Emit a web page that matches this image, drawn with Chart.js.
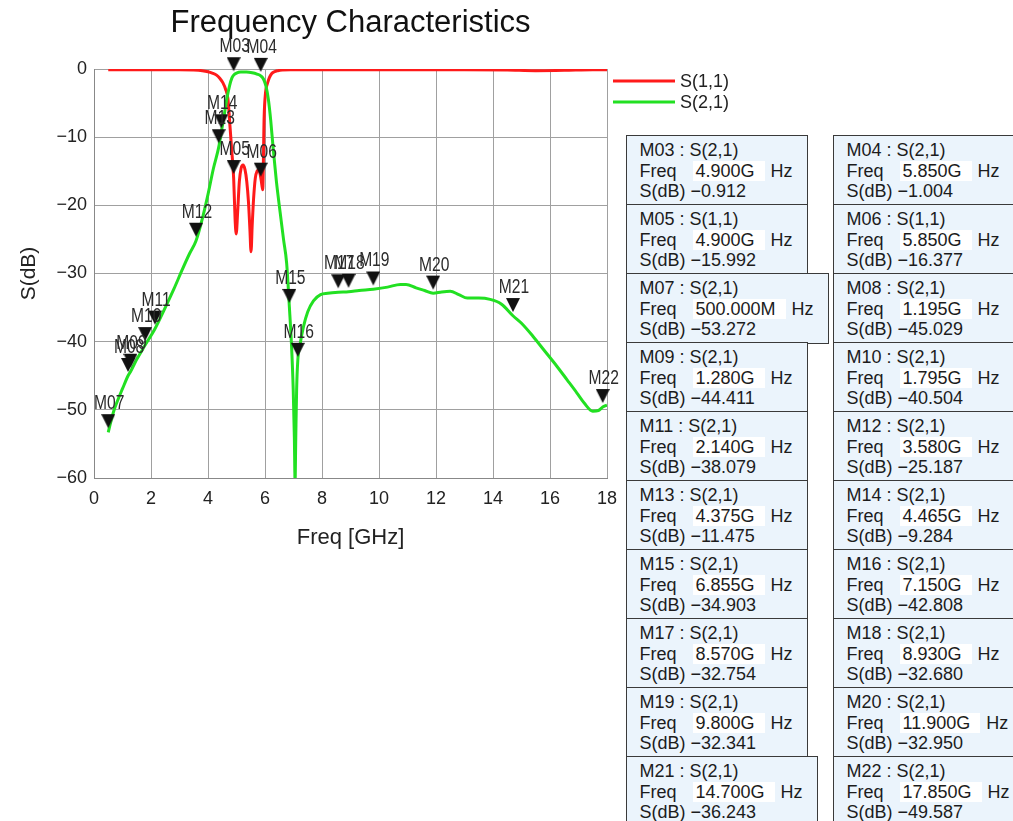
<!DOCTYPE html>
<html>
<head>
<meta charset="utf-8">
<script src="https://cdn.jsdelivr.net/npm/chart.js@4.4.1/dist/chart.umd.min.js"></script>
<style>
  body { margin: 0; background: #fff; }
  #wrap { position: relative; width: 1013px; height: 821px; overflow: hidden; }
  #freqChart { position: absolute; left: 0; top: 0; }
  .mk {
    position: absolute; box-sizing: border-box; height: 70.5px; min-width: 180px;
    padding: 4px 14px 0 12.5px; border: 1.5px solid #3a3a3a; background: #ebf4fc;
    font-family: "Liberation Sans", Arial, sans-serif; font-size: 18px; line-height: 20.5px;
    color: #1c1c1c; white-space: nowrap;
  }
  .mk .lbl { display: inline-block; width: 53px; }
  .mk .val { background: #fff; padding: 0 10px 0 3px; margin-right: 6px; }
</style>
</head>
<body>
<div id="wrap">
  <canvas id="freqChart" width="1013" height="821"></canvas>
</div>
<script>
// S(1,1) trace
const s11Freq = [0.5, 1, 2, 3, 3.5, 3.8, 4.0, 4.15, 4.3, 4.42, 4.52, 4.62, 4.7, 4.77, 4.83, 4.9, 4.95, 4.99, 5.04, 5.1, 5.16, 5.23, 5.3, 5.36, 5.42, 5.47, 5.51, 5.55, 5.6, 5.66, 5.72, 5.79, 5.85, 5.89, 5.92, 5.97, 6.02, 6.08, 6.15, 6.23, 6.33, 6.45, 6.6, 6.9, 7.5, 9, 11, 13, 14.5, 15.5, 16.5, 17.5, 18];
const s11Db = [-0.1, -0.1, -0.1, -0.1, -0.15, -0.25, -0.4, -0.6, -0.9, -1.4, -2.0, -3.0, -4.4, -8.3, -11.8, -16, -22, -24.2, -21, -16.5, -14.6, -14.1, -14.8, -16.5, -19.5, -23.5, -26.8, -23, -19, -16, -15, -14.8, -15.9, -17, -17.7, -7, -3.4, -2.2, -1.3, -0.7, -0.4, -0.25, -0.15, -0.1, -0.1, -0.1, -0.1, -0.1, -0.15, -0.25, -0.2, -0.1, -0.1];

// S(2,1) trace
const s21Freq = [0.5, 0.6, 0.7, 0.85, 1.0, 1.195, 1.28, 1.5, 1.795, 2.14, 2.5, 2.8, 3.1, 3.35, 3.58, 3.84, 4.0, 4.19, 4.375, 4.465, 4.56, 4.66, 4.76, 4.84, 4.9, 5.0, 5.15, 5.35, 5.55, 5.72, 5.85, 5.95, 6.04, 6.12, 6.2, 6.29, 6.4, 6.53, 6.65, 6.76, 6.855, 6.93, 6.99, 7.03, 7.055, 7.08, 7.11, 7.15, 7.23, 7.35, 7.5, 7.7, 7.95, 8.2, 8.57, 8.93, 9.3, 9.8, 10.3, 10.75, 10.95, 11.3, 11.6, 11.9, 12.2, 12.5, 12.8, 13.1, 13.5, 13.9, 14.3, 14.7, 15.0, 15.4, 15.8, 16.24, 16.6, 16.94, 17.2, 17.5, 17.7, 17.85, 18.0];
const s21Db = [-53.3, -51.6, -50.1, -48.4, -46.9, -45.0, -44.4, -42.6, -40.5, -38.1, -35.0, -32.3, -29.4, -27.1, -25.2, -21.3, -18.4, -14.6, -11.5, -9.3, -7.0, -4.4, -2.4, -1.3, -0.9, -0.6, -0.45, -0.45, -0.55, -0.75, -1.0, -1.5, -2.6, -4.5, -7.5, -11.8, -16.5, -21.0, -25.0, -28.5, -34.9, -40.5, -47, -54, -60.5, -54, -47, -42.8, -40.4, -37.8, -35.6, -34.0, -33.1, -32.9, -32.75, -32.68, -32.5, -32.3, -32.0, -31.6, -31.6, -32.1, -32.5, -32.9, -32.7, -32.6, -33.1, -33.6, -33.6, -33.8, -34.5, -36.2, -37.3, -39.2, -41.3, -43.6, -45.6, -47.5, -49.0, -50.2, -50.1, -49.6, -49.3];

// markers
const markerNames = ['M03', 'M04', 'M05', 'M06', 'M07', 'M08', 'M09', 'M10', 'M11', 'M12', 'M13', 'M14', 'M15', 'M16', 'M17', 'M18', 'M19', 'M20', 'M21', 'M22'];
const markerTrace = ['S(2,1)', 'S(2,1)', 'S(1,1)', 'S(1,1)', 'S(2,1)', 'S(2,1)', 'S(2,1)', 'S(2,1)', 'S(2,1)', 'S(2,1)', 'S(2,1)', 'S(2,1)', 'S(2,1)', 'S(2,1)', 'S(2,1)', 'S(2,1)', 'S(2,1)', 'S(2,1)', 'S(2,1)', 'S(2,1)'];
const markerFreq = [4.9, 5.85, 4.9, 5.85, 0.5, 1.195, 1.28, 1.795, 2.14, 3.58, 4.375, 4.465, 6.855, 7.15, 8.57, 8.93, 9.8, 11.9, 14.7, 17.85];
const markerDb = [-0.912, -1.004, -15.992, -16.377, -53.272, -45.029, -44.411, -40.504, -38.079, -25.187, -11.475, -9.284, -34.903, -42.808, -32.754, -32.68, -32.341, -32.95, -36.243, -49.587];

// axes
const xMin = 0, xMax = 18, xStep = 2;
const yMin = -60, yMax = 0, yStep = 10;

const baseFont = '"Liberation Sans", Arial, sans-serif';
const minus = s => String(s).replace('-', '\u2212');

function toPoints(xs, ys) {
    return xs.map((x, i) => ({ x: x, y: ys[i] }));
}

// down-pointing triangle whose tip sits a little above the marked point
const tri = document.createElement('canvas');
tri.width = 14;
tri.height = 40;
const tctx = tri.getContext('2d');
tctx.fillStyle = '#111';
tctx.beginPath();
tctx.moveTo(0, 2);
tctx.lineTo(14, 2);
tctx.lineTo(7, 16);
tctx.closePath();
tctx.fill();

const markerLabels = {
    id: 'markerLabels',
    afterDraw(chart) {
        const ctx = chart.ctx;
        const meta = chart.getDatasetMeta(2);
        ctx.save();
        ctx.font = '20px ' + baseFont;
        ctx.fillStyle = '#2b2b2b';
        ctx.textAlign = 'center';
        ctx.textBaseline = 'alphabetic';
        meta.data.forEach((pt, i) => {
            // narrow gothic look: squeeze the glyphs horizontally
            ctx.save();
            ctx.translate(pt.x + 1, pt.y - 23);
            ctx.scale(0.78, 1);
            ctx.fillText(markerNames[i], 0, 0);
            ctx.restore();
        });

        // legend, right of the plot
        const x0 = chart.chartArea.right + 6;
        [0, 1].forEach((d, i) => {
            const ds = chart.data.datasets[d];
            const y = 81 + i * 21;
            ctx.strokeStyle = ds.borderColor;
            ctx.lineWidth = 3;
            ctx.beginPath();
            ctx.moveTo(x0, y);
            ctx.lineTo(x0 + 62, y);
            ctx.stroke();
            ctx.fillStyle = '#222';
            ctx.font = '18px ' + baseFont;
            ctx.textAlign = 'left';
            ctx.textBaseline = 'middle';
            ctx.fillText(ds.label, x0 + 67, y + 1);
        });
        ctx.restore();
    }
};

new Chart(document.getElementById('freqChart'), {
    type: 'line',
    data: {
        datasets: [{
            label: 'S(1,1)',
            data: toPoints(s11Freq, s11Db),
            borderColor: '#ff1a1a',
            borderWidth: 3,
            pointRadius: 0,
            cubicInterpolationMode: 'monotone',
            order: 2
        },
        {
            label: 'S(2,1)',
            data: toPoints(s21Freq, s21Db),
            borderColor: '#22e022',
            borderWidth: 3,
            pointRadius: 0,
            cubicInterpolationMode: 'monotone',
            order: 1
        },
        {
            label: 'markers',
            data: toPoints(markerFreq, markerDb),
            showLine: false,
            pointStyle: tri,
            clip: false,
            order: 0
        }]
    },
    options: {
        responsive: false,
        animation: false,
        events: [],
        layout: { padding: { left: 0, top: 0, right: 406, bottom: 261 } },
        plugins: {
            legend: { display: false },
            tooltip: { enabled: false },
            title: {
                display: true,
                text: 'Frequency Characteristics',
                fullSize: false,
                color: '#111',
                font: { family: baseFont, size: 31, weight: 'normal' },
                padding: { top: 4.4, bottom: 27.4 }
            }
        },
        scales: {
            x: {
                type: 'linear',
                min: xMin,
                max: xMax,
                ticks: { stepSize: xStep, padding: 10, color: '#222', font: { family: baseFont, size: 18 } },
                grid: { color: '#a0a0a0', drawTicks: false },
                border: { color: '#888' },
                title: {
                    display: true,
                    text: 'Freq [GHz]',
                    color: '#222',
                    font: { family: baseFont, size: 22 },
                    padding: { top: 0, bottom: 9 }
                },
                afterFit: function (scale) { scale.height = 82; }
            },
            y: {
                min: yMin,
                max: yMax,
                ticks: {
                    stepSize: yStep, padding: 7, color: '#222', font: { family: baseFont, size: 18 },
                    callback: function (v) { return minus(v); }
                },
                grid: { color: '#a0a0a0', drawTicks: false },
                border: { color: '#888' },
                title: {
                    display: true,
                    text: 'S(dB)',
                    color: '#222',
                    font: { family: baseFont, size: 21 },
                    padding: { top: 17, bottom: 0 }
                },
                afterFit: function (scale) { scale.width = 94; }
            }
        }
    },
    plugins: [markerLabels]
});

// marker readout boxes
const wrap = document.getElementById('wrap');
markerNames.forEach((name, i) => {
    const f = markerFreq[i];
    const fText = f < 1 ? (f * 1000).toFixed(3) + 'M' : f.toFixed(3) + 'G';
    const box = document.createElement('div');
    box.className = 'mk';
    box.style.left = (i % 2 === 0 ? 626 : 833) + 'px';
    box.style.top = (135 + 69 * Math.floor(i / 2)) + 'px';
    box.innerHTML = name + ' : ' + markerTrace[i] + '<br>' +
        '<span class="lbl">Freq</span><span class="val">' + fText + '</span>Hz<br>' +
        'S(dB) ' + minus(markerDb[i].toFixed(3));
    wrap.appendChild(box);
});
</script>
</body>
</html>
